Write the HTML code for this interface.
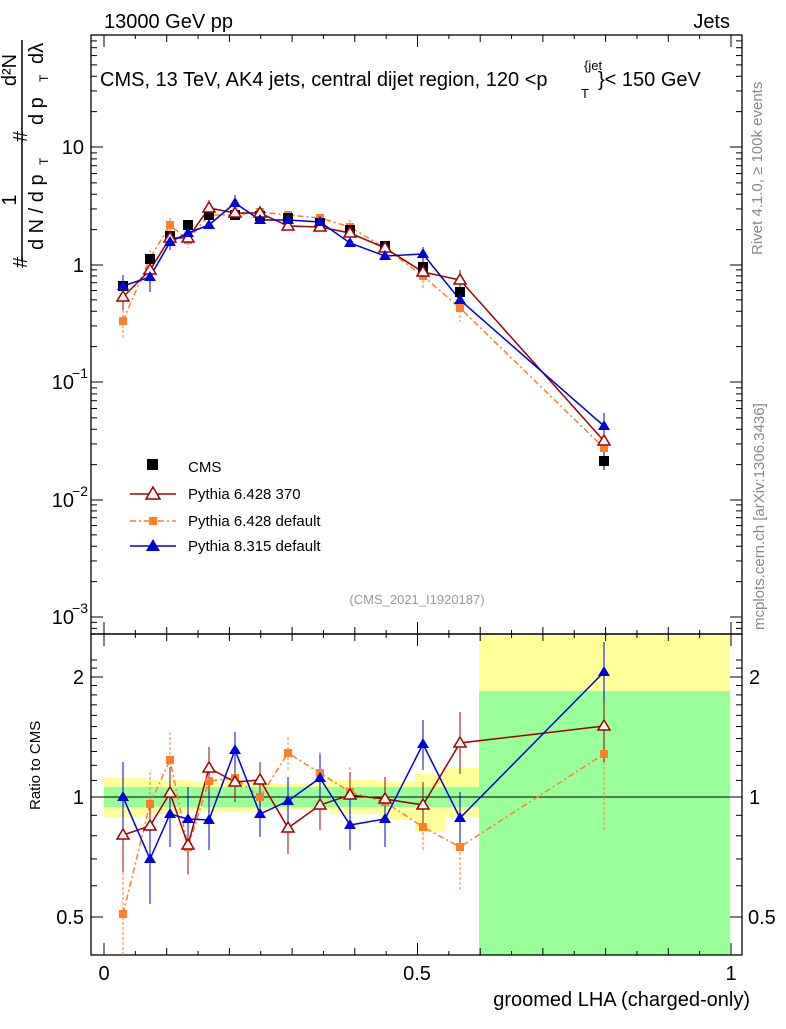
<!DOCTYPE html><html><head><style>body{margin:0;background:#fff}svg{font-family:"Liberation Sans",sans-serif}</style></head><body>
<svg id="s" width="786" height="1024" xmlns="http://www.w3.org/2000/svg">
<rect width="786" height="1024" fill="#fff"/>
<path d="M104,778 H146 V780 H190 V782 H260 V784 H330 V780 H380 V782 H415 V774 H445 V768 H479 V817 H445 V832 H415 V820 H380 V814 H330 V810 H260 V812 H190 V814 H146 V817 H104 Z" fill="#ffff99"/>
<rect x="479" y="634" width="251" height="321" fill="#ffff99"/>
<path d="M104,787 H479 V807 H104 Z" fill="#99ff99"/>
<rect x="479" y="691" width="251" height="264" fill="#99ff99"/>
<g fill="none" stroke="#000" stroke-width="1.3">
<rect x="91" y="35" width="651" height="599"/>
<rect x="91" y="634" width="651" height="321"/>
<line x1="91" y1="797" x2="742" y2="797" stroke-width="1"/>
</g>
<g id="ticks" stroke="#000">
<line x1="91" y1="147" x2="103" y2="147"/><line x1="91" y1="265" x2="103" y2="265"/><line x1="91" y1="382" x2="103" y2="382"/><line x1="91" y1="500" x2="103" y2="500"/><line x1="91" y1="617" x2="103" y2="617"/>
<line x1="742" y1="147" x2="730" y2="147"/><line x1="742" y1="265" x2="730" y2="265"/><line x1="742" y1="382" x2="730" y2="382"/><line x1="742" y1="500" x2="730" y2="500"/><line x1="742" y1="617" x2="730" y2="617"/>
<line x1="91" y1="677" x2="103" y2="677"/><line x1="91" y1="917" x2="103" y2="917"/><line x1="742" y1="677" x2="730" y2="677"/><line x1="742" y1="917" x2="730" y2="917"/>
</g>
<g font-size="20" text-anchor="end">
<text x="84" y="154">10</text><text x="84" y="272">1</text>
<text x="74" y="389">10</text><text x="88" y="378" font-size="14">−1</text>
<text x="74" y="507">10</text><text x="88" y="496" font-size="14">−2</text>
<text x="74" y="624">10</text><text x="88" y="613" font-size="14">−3</text>
<text x="84" y="684">2</text><text x="84" y="804">1</text><text x="84" y="924">0.5</text>
</g>
<g font-size="20"><text x="749" y="684">2</text><text x="749" y="804">1</text><text x="748" y="924">0.5</text></g>
<g font-size="20" text-anchor="middle"><text x="104" y="980">0</text><text x="417" y="980">0.5</text><text x="731" y="980">1</text></g>
<text x="750" y="1006" font-size="20" text-anchor="end">groomed LHA (charged-only)</text>
<text x="104" y="28" font-size="20">13000 GeV pp</text>
<text x="730" y="28" font-size="20" text-anchor="end">Jets</text>
<text x="100" y="86" font-size="20">CMS, 13 TeV, AK4 jets, central dijet region, 120 &lt;p</text>
<text x="581" y="98" font-size="13">T</text><text x="584" y="70" font-size="13">{jet</text>
<text x="598" y="86" font-size="20">}&lt; 150 GeV</text>
<text transform="translate(40,810) rotate(-90)" font-size="15">Ratio to CMS</text>
<line x1="22" y1="262" x2="22" y2="40" stroke="#000" stroke-width="1.5"/>
<text transform="translate(16,200) rotate(-90)" font-size="20" text-anchor="middle">1</text>
<text transform="translate(16,70) rotate(-90)" font-size="20" text-anchor="middle">d²N</text>
<text transform="translate(27,268) rotate(-90)" font-size="20">#</text>
<text transform="translate(27,142) rotate(-90)" font-size="20">#</text>
<text transform="translate(43,250) rotate(-90)" font-size="20">d N / d p</text>
<text transform="translate(48,165) rotate(-90)" font-size="12">T</text>
<text transform="translate(43,125) rotate(-90)" font-size="20">d p</text>
<text transform="translate(48,82) rotate(-90)" font-size="12">T</text>
<text transform="translate(43,64) rotate(-90)" font-size="20">dλ</text>
<text transform="translate(762,255) rotate(-90)" font-size="15" fill="#888">Rivet 4.1.0, ≥ 100k events</text>
<text transform="translate(764,630) rotate(-90)" font-size="15" fill="#888">mcplots.cern.ch [arXiv:1306.3436]</text>
<text x="417" y="604" font-size="13" fill="#999" text-anchor="middle">(CMS_2021_I1920187)</text>
<rect x="147" y="459" width="11" height="11" fill="#000"/><text x="188" y="472" font-size="15">CMS</text>
<line x1="130" y1="494" x2="176" y2="494" stroke="#a00000" stroke-width="1.5"/><path d="M153,487 L160,499 L146,499 Z" fill="#fff" stroke="#a00000" stroke-width="1.5"/><text x="188" y="499" font-size="15">Pythia 6.428 370</text>
<line x1="130" y1="521" x2="176" y2="521" stroke="#ff7f27" stroke-width="1.5" stroke-dasharray="6,3,2,3"/><rect x="149" y="517" width="8" height="8" fill="#ff7f27"/><text x="188" y="526" font-size="15">Pythia 6.428 default</text>
<line x1="130" y1="546" x2="176" y2="546" stroke="#0000dd" stroke-width="1.5"/><path d="M153,539 L160,551 L146,551 Z" fill="#0000dd"/><text x="188" y="551" font-size="15">Pythia 8.315 default</text>
<path stroke="#ff7f27" stroke-dasharray="3,2" d="M123,305 V338 M150,250 V268 M170,218 V233 M188,232 V248 M209,208 V222 M350,220 V234 M423,265 V288 M460,295 V322 M604,440 V458"/>
<path stroke="#a00000" d="M123,285 V310 M150,262 V280 M209,200 V216 M460,270 V290 M604,430 V450"/>
<path stroke="#0000dd" d="M123,275 V298 M150,264 V292 M170,234 V250 M235,195 V212 M423,247 V262 M460,290 V312 M604,413 V438"/>
<path stroke="#000" d="M123,280 V292 M604,452 V470"/>
<polyline fill="none" stroke="#ff7f27" stroke-width="1.5" stroke-dasharray="6,3,2,3" points="123,321 150,258 170,225 188,240 209,215 235,215 260,212 288,215 320,218 350,227 385,248 423,276 460,308 604,448"/>
<polyline fill="none" stroke="#a00000" stroke-width="1.5" points="123,297 150,270 170,238 188,238 209,208 235,213 260,213 288,226 320,227 350,233 385,248 423,272 460,280 604,441"/>
<polyline fill="none" stroke="#0000dd" stroke-width="1.5" points="123,286 150,277 170,242 188,233 209,225 235,203 260,220 288,220 320,222 350,243 385,256 423,254 460,300 604,426"/>
<g fill="#ff7f27">
<rect x="119" y="317" width="8" height="8"/><rect x="146" y="254" width="8" height="8"/><rect x="166" y="221" width="8" height="8"/><rect x="184" y="236" width="8" height="8"/><rect x="205" y="211" width="8" height="8"/><rect x="231" y="211" width="8" height="8"/><rect x="256" y="208" width="8" height="8"/><rect x="284" y="211" width="8" height="8"/><rect x="316" y="214" width="8" height="8"/><rect x="346" y="223" width="8" height="8"/><rect x="381" y="244" width="8" height="8"/><rect x="419" y="272" width="8" height="8"/><rect x="456" y="304" width="8" height="8"/><rect x="600" y="444" width="8" height="8"/>
</g>
<g fill="#000">
<rect x="118" y="281" width="10" height="10"/><rect x="145" y="254" width="10" height="10"/><rect x="165" y="231" width="10" height="10"/><rect x="183" y="220" width="10" height="10"/><rect x="204" y="210" width="10" height="10"/><rect x="230" y="210" width="10" height="10"/><rect x="255" y="211" width="10" height="10"/><rect x="283" y="213" width="10" height="10"/><rect x="315" y="218" width="10" height="10"/><rect x="345" y="225" width="10" height="10"/><rect x="380" y="241" width="10" height="10"/><rect x="418" y="262" width="10" height="10"/><rect x="455" y="287" width="10" height="10"/><rect x="599" y="456" width="10" height="10"/>
</g>
<g fill="#fff" stroke="#a00000" stroke-width="1.5">
<path d="M123,291 l6,10 h-12 Z"/><path d="M150,264 l6,10 h-12 Z"/><path d="M170,232 l6,10 h-12 Z"/><path d="M188,232 l6,10 h-12 Z"/><path d="M209,202 l6,10 h-12 Z"/><path d="M235,207 l6,10 h-12 Z"/><path d="M260,207 l6,10 h-12 Z"/><path d="M288,220 l6,10 h-12 Z"/><path d="M320,221 l6,10 h-12 Z"/><path d="M350,227 l6,10 h-12 Z"/><path d="M385,242 l6,10 h-12 Z"/><path d="M423,266 l6,10 h-12 Z"/><path d="M460,274 l6,10 h-12 Z"/><path d="M604,435 l6,10 h-12 Z"/>
</g>
<g fill="#0000dd">
<path d="M123,280 l6,10 h-12 Z"/><path d="M150,271 l6,10 h-12 Z"/><path d="M170,236 l6,10 h-12 Z"/><path d="M188,227 l6,10 h-12 Z"/><path d="M209,219 l6,10 h-12 Z"/><path d="M235,197 l6,10 h-12 Z"/><path d="M260,214 l6,10 h-12 Z"/><path d="M288,214 l6,10 h-12 Z"/><path d="M320,216 l6,10 h-12 Z"/><path d="M350,237 l6,10 h-12 Z"/><path d="M385,250 l6,10 h-12 Z"/><path d="M423,248 l6,10 h-12 Z"/><path d="M460,294 l6,10 h-12 Z"/><path d="M604,420 l6,10 h-12 Z"/>
</g>
<g transform="translate(0,2)">
<g fill="none" stroke-width="1.5">
<polyline stroke="#ff7f27" stroke-dasharray="6,3,2,3" points="123,912 150,802 170,758 188,845 209,779 235,776 260,795 288,751 320,771 350,790 385,800 423,825 460,845 604,752"/>
<polyline stroke="#a00000" points="123,833 150,824 170,791 188,843 209,766 235,780 260,778 288,826 320,803 350,793 385,797 423,803 460,741 604,724"/>
<polyline stroke="#0000dd" points="123,795 150,857 170,812 188,817 209,818 235,748 260,812 288,799 320,776 350,823 385,817 423,742 460,816 604,670"/>
</g>
<g stroke-width="1">
<path stroke="#ff7f27" stroke-dasharray="3,2" d="M123,870 V953 M150,770 V835 M170,730 V790 M188,815 V875 M209,750 V810 M235,750 V800 M260,770 V820 M288,735 V768 M320,750 V792 M350,765 V815 M385,780 V820 M423,800 V850 M460,800 V890 M604,680 V830"/>
<path stroke="#a00000" d="M123,800 V870 M150,800 V850 M170,765 V818 M188,815 V872 M209,745 V790 M235,760 V800 M260,760 V798 M288,800 V852 M320,780 V828 M350,770 V818 M385,775 V820 M423,780 V828 M460,710 V772 M604,690 V760"/>
<path stroke="#0000dd" d="M123,760 V830 M150,820 V902 M170,780 V845 M188,785 V850 M209,790 V848 M235,730 V770 M260,790 V835 M288,775 V825 M320,752 V800 M350,798 V848 M385,790 V845 M423,718 V768 M460,790 V842 M604,640 V700"/>
</g>
<g fill="#ff7f27">
<rect x="119" y="908" width="8" height="8"/><rect x="146" y="798" width="8" height="8"/><rect x="166" y="754" width="8" height="8"/><rect x="184" y="841" width="8" height="8"/><rect x="205" y="775" width="8" height="8"/><rect x="231" y="772" width="8" height="8"/><rect x="256" y="791" width="8" height="8"/><rect x="284" y="747" width="8" height="8"/><rect x="316" y="767" width="8" height="8"/><rect x="346" y="786" width="8" height="8"/><rect x="381" y="796" width="8" height="8"/><rect x="419" y="821" width="8" height="8"/><rect x="456" y="841" width="8" height="8"/><rect x="600" y="748" width="8" height="8"/>
</g>
<g fill="#fff" stroke="#a00000" stroke-width="1.5">
<path d="M123,827 l6,10 h-12 Z"/><path d="M150,818 l6,10 h-12 Z"/><path d="M170,785 l6,10 h-12 Z"/><path d="M188,837 l6,10 h-12 Z"/><path d="M209,760 l6,10 h-12 Z"/><path d="M235,774 l6,10 h-12 Z"/><path d="M260,772 l6,10 h-12 Z"/><path d="M288,820 l6,10 h-12 Z"/><path d="M320,797 l6,10 h-12 Z"/><path d="M350,787 l6,10 h-12 Z"/><path d="M385,791 l6,10 h-12 Z"/><path d="M423,797 l6,10 h-12 Z"/><path d="M460,735 l6,10 h-12 Z"/><path d="M604,718 l6,10 h-12 Z"/>
</g>
<g fill="#0000dd">
<path d="M123,789 l6,10 h-12 Z"/><path d="M150,851 l6,10 h-12 Z"/><path d="M170,806 l6,10 h-12 Z"/><path d="M188,811 l6,10 h-12 Z"/><path d="M209,812 l6,10 h-12 Z"/><path d="M235,742 l6,10 h-12 Z"/><path d="M260,806 l6,10 h-12 Z"/><path d="M288,793 l6,10 h-12 Z"/><path d="M320,770 l6,10 h-12 Z"/><path d="M350,817 l6,10 h-12 Z"/><path d="M385,811 l6,10 h-12 Z"/><path d="M423,736 l6,10 h-12 Z"/><path d="M460,810 l6,10 h-12 Z"/><path d="M604,664 l6,10 h-12 Z"/>
</g>
</g>
</svg>
<script>
(function(){var g=document.getElementById('ticks'),ns='http://www.w3.org/2000/svg';
function L(a,b,c,d){var l=document.createElementNS(ns,'line');l.setAttribute('x1',a);l.setAttribute('y1',b);l.setAttribute('x2',c);l.setAttribute('y2',d);g.appendChild(l);}
var bases=[617,500,382,265,147];
bases.forEach(function(b){for(var k=2;k<=9;k++){var y=b-117.5*Math.log10(k);if(y<36)continue;L(91,y,97,y);L(742,y,736,y);}});
for(var k=2;k<=9;k++){var y=617+117.5*(1-Math.log10(k));if(y<633){L(91,y,97,y);L(742,y,736,y);}}
[0.6,0.7,0.8,0.9,1.1,1.2,1.3,1.4,1.5,1.6,1.7,1.8,1.9,2.1,2.2].forEach(function(r){var y=797-400*Math.log10(r);if(y>635&&y<954){L(91,y,97,y);L(742,y,736,y);}});
for(var i=0;i<=20;i++){var x=104+31.35*i;var len=(i%10==0)?12:(i%2==0?7:4);L(x,955,x,955-len);L(x,35,x,35+len);L(x,634,x,634+len);L(x,634,x,634-len);}
})();
</script>
</body></html>
